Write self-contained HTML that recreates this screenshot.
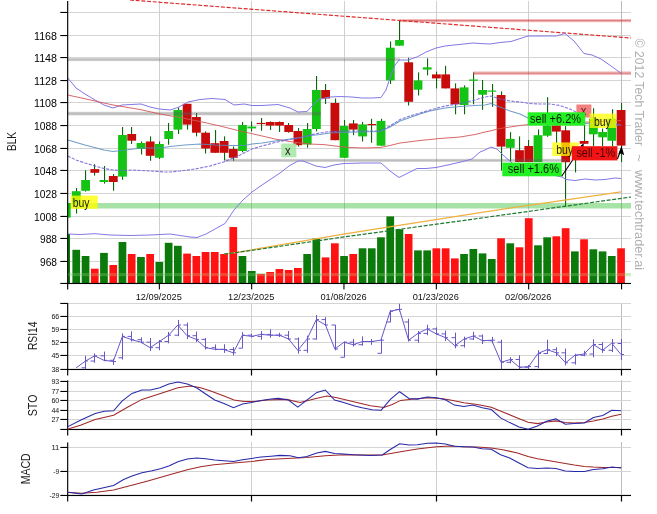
<!DOCTYPE html>
<html><head><meta charset="utf-8"><title>BLK chart</title>
<style>html,body{margin:0;padding:0;background:#fff;}body{width:657px;height:514px;position:relative;overflow:hidden;font-family:"Liberation Sans",sans-serif;}</style></head>
<body>
<svg width="657" height="514" viewBox="0 0 657 514" style="position:absolute;left:0;top:0;font-family:'Liberation Sans',sans-serif;will-change:transform">
<rect width="657" height="514" fill="#fff"/>
<line x1="68" x2="631" y1="12.5" y2="12.5" stroke="#d4d4d4" stroke-width="1"/>
<line x1="68" x2="631" y1="35.5" y2="35.5" stroke="#d4d4d4" stroke-width="1"/>
<line x1="68" x2="631" y1="57.5" y2="57.5" stroke="#d4d4d4" stroke-width="1"/>
<line x1="68" x2="631" y1="80.5" y2="80.5" stroke="#d4d4d4" stroke-width="1"/>
<line x1="68" x2="631" y1="102.5" y2="102.5" stroke="#d4d4d4" stroke-width="1"/>
<line x1="68" x2="631" y1="125.5" y2="125.5" stroke="#d4d4d4" stroke-width="1"/>
<line x1="68" x2="631" y1="148.5" y2="148.5" stroke="#d4d4d4" stroke-width="1"/>
<line x1="68" x2="631" y1="170.5" y2="170.5" stroke="#d4d4d4" stroke-width="1"/>
<line x1="68" x2="631" y1="193.5" y2="193.5" stroke="#d4d4d4" stroke-width="1"/>
<line x1="68" x2="631" y1="216.5" y2="216.5" stroke="#d4d4d4" stroke-width="1"/>
<line x1="68" x2="631" y1="238.5" y2="238.5" stroke="#d4d4d4" stroke-width="1"/>
<line x1="68" x2="631" y1="261.5" y2="261.5" stroke="#d4d4d4" stroke-width="1"/>
<line x1="159.5" x2="159.5" y1="1" y2="283" stroke="#d0d0d0" stroke-width="1"/>
<line x1="251.5" x2="251.5" y1="1" y2="283" stroke="#d0d0d0" stroke-width="1"/>
<line x1="344.5" x2="344.5" y1="1" y2="283" stroke="#d0d0d0" stroke-width="1"/>
<line x1="436.5" x2="436.5" y1="1" y2="283" stroke="#d0d0d0" stroke-width="1"/>
<line x1="528.5" x2="528.5" y1="1" y2="283" stroke="#d0d0d0" stroke-width="1"/>
<line x1="251.5" x2="251.5" y1="303" y2="369.5" stroke="#d0d0d0" stroke-width="1"/>
<line x1="251.5" x2="251.5" y1="380" y2="429.3" stroke="#d0d0d0" stroke-width="1"/>
<line x1="251.5" x2="251.5" y1="442" y2="495" stroke="#d0d0d0" stroke-width="1"/>
<line x1="436.5" x2="436.5" y1="303" y2="369.5" stroke="#d0d0d0" stroke-width="1"/>
<line x1="436.5" x2="436.5" y1="380" y2="429.3" stroke="#d0d0d0" stroke-width="1"/>
<line x1="436.5" x2="436.5" y1="442" y2="495" stroke="#d0d0d0" stroke-width="1"/>
<line x1="621.5" x2="621.5" y1="1" y2="283" stroke="#bcbcbc" stroke-width="1"/>
<line x1="621.5" x2="621.5" y1="303" y2="369.5" stroke="#bcbcbc" stroke-width="1"/>
<line x1="621.5" x2="621.5" y1="380" y2="429.3" stroke="#bcbcbc" stroke-width="1"/>
<line x1="621.5" x2="621.5" y1="442" y2="495" stroke="#bcbcbc" stroke-width="1"/>
<line x1="68" x2="631" y1="303.5" y2="303.5" stroke="#d4d4d4" stroke-width="1"/>
<line x1="68" x2="631" y1="316.5" y2="316.5" stroke="#d4d4d4" stroke-width="1"/>
<line x1="68" x2="631" y1="329.5" y2="329.5" stroke="#d4d4d4" stroke-width="1"/>
<line x1="68" x2="631" y1="342.5" y2="342.5" stroke="#d4d4d4" stroke-width="1"/>
<line x1="68" x2="631" y1="355.5" y2="355.5" stroke="#d4d4d4" stroke-width="1"/>
<line x1="68" x2="631" y1="381.5" y2="381.5" stroke="#d4d4d4" stroke-width="1"/>
<line x1="68" x2="631" y1="391.5" y2="391.5" stroke="#d4d4d4" stroke-width="1"/>
<line x1="68" x2="631" y1="400.5" y2="400.5" stroke="#d4d4d4" stroke-width="1"/>
<line x1="68" x2="631" y1="410.5" y2="410.5" stroke="#d4d4d4" stroke-width="1"/>
<line x1="68" x2="631" y1="419.5" y2="419.5" stroke="#d4d4d4" stroke-width="1"/>
<line x1="68" x2="631" y1="447.5" y2="447.5" stroke="#d4d4d4" stroke-width="1"/>
<line x1="68" x2="631" y1="471.5" y2="471.5" stroke="#d4d4d4" stroke-width="1"/>
<rect x="68" y="273" width="563" height="3.2" fill="#c6efc0"/>
<g clip-path="url(#clipmain)">
<defs><clipPath id="clipmain"><rect x="68" y="0" width="570" height="283"/></clipPath></defs>
<rect x="63.2" y="234.0" width="6.8" height="49.0" fill="#0b7a0b"/>
<rect x="72.4" y="249.8" width="7.7" height="33.2" fill="#0b7a0b"/>
<rect x="81.7" y="256.0" width="7.7" height="27.0" fill="#0b7a0b"/>
<rect x="90.9" y="268.7" width="7.7" height="14.3" fill="#ff1212"/>
<rect x="100.1" y="252.9" width="7.7" height="30.1" fill="#0b7a0b"/>
<rect x="109.4" y="265.0" width="7.7" height="18.0" fill="#ff1212"/>
<rect x="118.6" y="242.0" width="7.7" height="41.0" fill="#0b7a0b"/>
<rect x="127.8" y="254.0" width="7.7" height="29.0" fill="#ff1212"/>
<rect x="137.1" y="257.0" width="7.7" height="26.0" fill="#0b7a0b"/>
<rect x="146.3" y="254.0" width="7.7" height="29.0" fill="#ff1212"/>
<rect x="155.5" y="262.0" width="7.7" height="21.0" fill="#0b7a0b"/>
<rect x="164.8" y="242.8" width="7.7" height="40.2" fill="#0b7a0b"/>
<rect x="174.0" y="245.8" width="7.7" height="37.2" fill="#0b7a0b"/>
<rect x="183.2" y="253.6" width="7.7" height="29.4" fill="#ff1212"/>
<rect x="192.5" y="256.0" width="7.7" height="27.0" fill="#ff1212"/>
<rect x="201.7" y="252.0" width="7.7" height="31.0" fill="#ff1212"/>
<rect x="210.9" y="252.0" width="7.7" height="31.0" fill="#ff1212"/>
<rect x="220.2" y="254.0" width="7.7" height="29.0" fill="#ff1212"/>
<rect x="229.4" y="227.0" width="7.7" height="56.0" fill="#ff1212"/>
<rect x="238.6" y="256.0" width="7.7" height="27.0" fill="#0b7a0b"/>
<rect x="247.9" y="271.0" width="7.7" height="12.0" fill="#0b7a0b"/>
<rect x="257.1" y="274.0" width="7.7" height="9.0" fill="#ff1212"/>
<rect x="266.3" y="272.0" width="7.7" height="11.0" fill="#ff1212"/>
<rect x="275.6" y="269.0" width="7.7" height="14.0" fill="#ff1212"/>
<rect x="284.8" y="270.0" width="7.7" height="13.0" fill="#ff1212"/>
<rect x="294.0" y="268.0" width="7.7" height="15.0" fill="#ff1212"/>
<rect x="303.3" y="254.0" width="7.7" height="29.0" fill="#0b7a0b"/>
<rect x="312.5" y="238.5" width="7.7" height="44.5" fill="#0b7a0b"/>
<rect x="321.7" y="257.4" width="7.7" height="25.6" fill="#ff1212"/>
<rect x="331.0" y="243.3" width="7.7" height="39.7" fill="#ff1212"/>
<rect x="340.2" y="256.0" width="7.7" height="27.0" fill="#0b7a0b"/>
<rect x="349.4" y="254.0" width="7.7" height="29.0" fill="#ff1212"/>
<rect x="358.7" y="248.3" width="7.7" height="34.7" fill="#0b7a0b"/>
<rect x="367.9" y="248.3" width="7.7" height="34.7" fill="#0b7a0b"/>
<rect x="377.1" y="237.3" width="7.7" height="45.7" fill="#0b7a0b"/>
<rect x="386.4" y="216.4" width="7.7" height="66.6" fill="#0b7a0b"/>
<rect x="395.6" y="229.2" width="7.7" height="53.8" fill="#0b7a0b"/>
<rect x="404.8" y="234.0" width="7.7" height="49.0" fill="#ff1212"/>
<rect x="414.1" y="250.4" width="7.7" height="32.6" fill="#0b7a0b"/>
<rect x="423.3" y="250.4" width="7.7" height="32.6" fill="#0b7a0b"/>
<rect x="432.5" y="248.3" width="7.7" height="34.7" fill="#ff1212"/>
<rect x="441.8" y="248.3" width="7.7" height="34.7" fill="#ff1212"/>
<rect x="451.0" y="258.4" width="7.7" height="24.6" fill="#ff1212"/>
<rect x="460.2" y="254.0" width="7.7" height="29.0" fill="#0b7a0b"/>
<rect x="469.5" y="249.0" width="7.7" height="34.0" fill="#0b7a0b"/>
<rect x="478.7" y="253.4" width="7.7" height="29.6" fill="#0b7a0b"/>
<rect x="487.9" y="259.0" width="7.7" height="24.0" fill="#0b7a0b"/>
<rect x="497.2" y="238.3" width="7.7" height="44.7" fill="#ff1212"/>
<rect x="506.4" y="243.3" width="7.7" height="39.7" fill="#0b7a0b"/>
<rect x="515.6" y="247.3" width="7.7" height="35.7" fill="#ff1212"/>
<rect x="524.9" y="218.2" width="7.7" height="64.8" fill="#ff1212"/>
<rect x="534.1" y="245.3" width="7.7" height="37.7" fill="#0b7a0b"/>
<rect x="543.3" y="237.3" width="7.7" height="45.7" fill="#0b7a0b"/>
<rect x="552.5" y="236.3" width="7.7" height="46.7" fill="#ff1212"/>
<rect x="561.8" y="228.2" width="7.7" height="54.8" fill="#ff1212"/>
<rect x="571.0" y="251.4" width="7.7" height="31.6" fill="#0b7a0b"/>
<rect x="580.2" y="239.3" width="7.7" height="43.7" fill="#ff1212"/>
<rect x="589.5" y="249.3" width="7.7" height="33.7" fill="#0b7a0b"/>
<rect x="598.7" y="251.4" width="7.7" height="31.6" fill="#0b7a0b"/>
<rect x="607.9" y="256.0" width="7.7" height="27.0" fill="#0b7a0b"/>
<rect x="617.2" y="248.3" width="7.7" height="34.7" fill="#ff1212"/>
<rect x="67" y="203.0" width="1.1" height="14.6" fill="#0b660b"/>
<rect x="62.7" y="203.0" width="8.0" height="14.6" fill="#14c414"/>
<rect x="76" y="188.0" width="1.1" height="25.5" fill="#0b660b"/>
<rect x="71.9" y="191.2" width="8.8" height="13.2" fill="#14c414"/>
<rect x="85" y="170.3" width="1.1" height="21.3" fill="#0b660b"/>
<rect x="81.2" y="180.0" width="8.8" height="10.8" fill="#14c414"/>
<rect x="94" y="164.2" width="1.1" height="11.4" fill="#0b660b"/>
<rect x="90.4" y="169.1" width="8.8" height="3.7" fill="#c80c0c"/>
<rect x="104" y="166.0" width="1.1" height="17.6" fill="#0b660b"/>
<rect x="99.6" y="180.0" width="8.8" height="2.0" fill="#14c414"/>
<rect x="113" y="174.0" width="1.1" height="16.7" fill="#0b660b"/>
<rect x="108.9" y="176.0" width="8.8" height="6.0" fill="#c80c0c"/>
<rect x="122" y="127.0" width="1.1" height="52.8" fill="#0b660b"/>
<rect x="118.1" y="135.0" width="8.8" height="41.6" fill="#14c414"/>
<rect x="131" y="127.0" width="1.1" height="17.0" fill="#0b660b"/>
<rect x="127.3" y="134.0" width="8.8" height="6.7" fill="#c80c0c"/>
<rect x="141" y="141.5" width="1.1" height="13.0" fill="#0b660b"/>
<rect x="136.6" y="143.0" width="8.8" height="6.0" fill="#14c414"/>
<rect x="150" y="136.4" width="1.1" height="24.4" fill="#0b660b"/>
<rect x="145.8" y="141.5" width="8.8" height="14.3" fill="#c80c0c"/>
<rect x="159" y="141.5" width="1.1" height="17.5" fill="#0b660b"/>
<rect x="155.0" y="144.0" width="8.8" height="13.8" fill="#14c414"/>
<rect x="168" y="123.0" width="1.1" height="21.7" fill="#0b660b"/>
<rect x="164.3" y="131.0" width="8.8" height="8.0" fill="#14c414"/>
<rect x="178" y="107.5" width="1.1" height="26.5" fill="#0b660b"/>
<rect x="173.5" y="110.0" width="8.8" height="19.6" fill="#14c414"/>
<rect x="187" y="103.8" width="1.1" height="25.8" fill="#0b660b"/>
<rect x="182.7" y="103.8" width="8.8" height="20.8" fill="#c80c0c"/>
<rect x="196" y="113.0" width="1.1" height="23.4" fill="#0b660b"/>
<rect x="192.0" y="117.0" width="8.8" height="15.7" fill="#c80c0c"/>
<rect x="205" y="131.4" width="1.1" height="22.1" fill="#0b660b"/>
<rect x="201.2" y="132.7" width="8.8" height="15.8" fill="#c80c0c"/>
<rect x="215" y="130.0" width="1.1" height="22.8" fill="#0b660b"/>
<rect x="210.4" y="143.2" width="8.8" height="9.6" fill="#c80c0c"/>
<rect x="224" y="136.4" width="1.1" height="23.9" fill="#0b660b"/>
<rect x="219.7" y="141.0" width="8.8" height="11.8" fill="#c80c0c"/>
<rect x="233" y="146.5" width="1.1" height="14.3" fill="#0b660b"/>
<rect x="228.9" y="149.0" width="8.8" height="8.8" fill="#c80c0c"/>
<rect x="242" y="122.0" width="1.1" height="30.3" fill="#0b660b"/>
<rect x="238.1" y="125.0" width="8.8" height="26.0" fill="#14c414"/>
<rect x="251" y="121.4" width="1.1" height="10.0" fill="#0b660b"/>
<rect x="247.4" y="126.6" width="8.8" height="1.8" fill="#14c414"/>
<rect x="261" y="118.0" width="1.1" height="12.7" fill="#0b660b"/>
<rect x="256.6" y="122.9" width="8.8" height="1.2" fill="#c80c0c"/>
<rect x="270" y="121.4" width="1.1" height="8.6" fill="#0b660b"/>
<rect x="265.8" y="122.0" width="8.8" height="3.6" fill="#c80c0c"/>
<rect x="279" y="121.4" width="1.1" height="10.6" fill="#0b660b"/>
<rect x="275.1" y="122.0" width="8.8" height="3.6" fill="#c80c0c"/>
<rect x="288" y="123.0" width="1.1" height="9.7" fill="#0b660b"/>
<rect x="284.3" y="125.0" width="8.8" height="7.0" fill="#c80c0c"/>
<rect x="298" y="128.0" width="1.1" height="18.5" fill="#0b660b"/>
<rect x="293.5" y="131.0" width="8.8" height="14.2" fill="#c80c0c"/>
<rect x="307" y="123.0" width="1.1" height="24.7" fill="#0b660b"/>
<rect x="302.8" y="129.0" width="8.8" height="15.5" fill="#14c414"/>
<rect x="316" y="76.0" width="1.1" height="55.4" fill="#0b660b"/>
<rect x="312.0" y="90.0" width="8.8" height="39.0" fill="#14c414"/>
<rect x="325" y="84.0" width="1.1" height="20.0" fill="#0b660b"/>
<rect x="321.2" y="90.0" width="8.8" height="8.5" fill="#c80c0c"/>
<rect x="335" y="98.5" width="1.1" height="41.7" fill="#0b660b"/>
<rect x="330.5" y="103.0" width="8.8" height="37.2" fill="#c80c0c"/>
<rect x="344" y="120.0" width="1.1" height="37.8" fill="#0b660b"/>
<rect x="339.7" y="125.9" width="8.8" height="31.9" fill="#14c414"/>
<rect x="353" y="120.0" width="1.1" height="15.2" fill="#0b660b"/>
<rect x="348.9" y="123.4" width="8.8" height="6.2" fill="#c80c0c"/>
<rect x="362" y="122.0" width="1.1" height="19.5" fill="#0b660b"/>
<rect x="358.2" y="124.4" width="8.8" height="12.0" fill="#14c414"/>
<rect x="371" y="118.8" width="1.1" height="23.9" fill="#0b660b"/>
<rect x="367.4" y="124.0" width="8.8" height="1.2" fill="#c80c0c"/>
<rect x="381" y="118.8" width="1.1" height="26.9" fill="#0b660b"/>
<rect x="376.6" y="120.9" width="8.8" height="24.8" fill="#14c414"/>
<rect x="390" y="41.5" width="1.1" height="42.5" fill="#0b660b"/>
<rect x="385.9" y="47.7" width="8.8" height="32.7" fill="#14c414"/>
<rect x="399" y="20.6" width="1.1" height="25.1" fill="#0b660b"/>
<rect x="395.1" y="40.0" width="8.8" height="5.7" fill="#14c414"/>
<rect x="408" y="57.8" width="1.1" height="47.7" fill="#0b660b"/>
<rect x="404.3" y="62.3" width="8.8" height="39.5" fill="#c80c0c"/>
<rect x="418" y="72.4" width="1.1" height="23.1" fill="#0b660b"/>
<rect x="413.6" y="80.4" width="8.8" height="9.3" fill="#14c414"/>
<rect x="427" y="58.3" width="1.1" height="17.1" fill="#0b660b"/>
<rect x="422.8" y="67.3" width="8.8" height="2.3" fill="#14c414"/>
<rect x="436" y="71.6" width="1.1" height="16.8" fill="#0b660b"/>
<rect x="432.0" y="74.4" width="8.8" height="4.0" fill="#c80c0c"/>
<rect x="445" y="65.8" width="1.1" height="22.6" fill="#0b660b"/>
<rect x="441.3" y="74.4" width="8.8" height="14.0" fill="#c80c0c"/>
<rect x="455" y="83.4" width="1.1" height="30.9" fill="#0b660b"/>
<rect x="450.5" y="88.4" width="8.8" height="15.9" fill="#c80c0c"/>
<rect x="464" y="85.4" width="1.1" height="28.9" fill="#0b660b"/>
<rect x="459.7" y="87.4" width="8.8" height="17.6" fill="#14c414"/>
<rect x="473" y="72.4" width="1.1" height="31.9" fill="#0b660b"/>
<rect x="469.0" y="79.5" width="8.8" height="1.3" fill="#14c414"/>
<rect x="482" y="80.0" width="1.1" height="29.8" fill="#0b660b"/>
<rect x="478.2" y="90.0" width="8.8" height="4.7" fill="#14c414"/>
<rect x="492" y="84.0" width="1.1" height="22.8" fill="#0b660b"/>
<rect x="487.4" y="90.5" width="8.8" height="1.2" fill="#14c414"/>
<rect x="501" y="91.4" width="1.1" height="79.1" fill="#0b660b"/>
<rect x="496.7" y="95.0" width="8.8" height="51.6" fill="#c80c0c"/>
<rect x="510" y="132.2" width="1.1" height="29.8" fill="#0b660b"/>
<rect x="505.9" y="138.9" width="8.8" height="8.9" fill="#14c414"/>
<rect x="519" y="136.4" width="1.1" height="25.6" fill="#0b660b"/>
<rect x="515.1" y="150.2" width="8.8" height="11.8" fill="#c80c0c"/>
<rect x="528" y="140.0" width="1.1" height="22.0" fill="#0b660b"/>
<rect x="524.4" y="146.0" width="8.8" height="16.0" fill="#c80c0c"/>
<rect x="538" y="129.5" width="1.1" height="32.5" fill="#0b660b"/>
<rect x="533.6" y="135.2" width="8.8" height="26.8" fill="#14c414"/>
<rect x="547" y="97.2" width="1.1" height="39.6" fill="#0b660b"/>
<rect x="542.8" y="125.5" width="8.8" height="10.2" fill="#14c414"/>
<rect x="556" y="125.5" width="1.1" height="17.5" fill="#0b660b"/>
<rect x="552.0" y="125.5" width="8.8" height="6.1" fill="#c80c0c"/>
<rect x="565" y="126.0" width="1.1" height="80.6" fill="#0b660b"/>
<rect x="561.3" y="130.3" width="8.8" height="31.9" fill="#c80c0c"/>
<rect x="575" y="150.0" width="1.1" height="22.4" fill="#0b660b"/>
<rect x="572.1" y="150.0" width="5.5" height="8.0" fill="#14c414"/>
<rect x="584" y="123.5" width="1.1" height="20.3" fill="#0b660b"/>
<rect x="579.7" y="141.0" width="8.8" height="2.8" fill="#c80c0c"/>
<rect x="593" y="108.2" width="1.1" height="37.8" fill="#0b660b"/>
<rect x="589.0" y="118.6" width="8.8" height="15.7" fill="#14c414"/>
<rect x="602" y="128.6" width="1.1" height="17.4" fill="#0b660b"/>
<rect x="598.2" y="132.0" width="8.8" height="5.3" fill="#14c414"/>
<rect x="612" y="109.2" width="1.1" height="36.8" fill="#0b660b"/>
<rect x="607.4" y="118.6" width="8.8" height="22.2" fill="#14c414"/>
<rect x="621" y="103.0" width="1.1" height="59.0" fill="#0b660b"/>
<rect x="616.7" y="110.0" width="8.8" height="35.6" fill="#c80c0c"/>
</g>
<rect x="68" y="58.0" width="332.0" height="3.2" fill="#606060" fill-opacity="0.22"/>
<rect x="68" y="58.7" width="332.0" height="1.8" fill="#606060" fill-opacity="0.25"/>
<rect x="68" y="111.7" width="253.0" height="3.8" fill="#606060" fill-opacity="0.22"/>
<rect x="68" y="112.4" width="253.0" height="2.4" fill="#606060" fill-opacity="0.25"/>
<rect x="224" y="158.8" width="342.0" height="3.2" fill="#606060" fill-opacity="0.22"/>
<rect x="224" y="159.5" width="342.0" height="1.8" fill="#606060" fill-opacity="0.25"/>
<rect x="399.5" y="19.0" width="231.5" height="3.2" fill="#e03030" fill-opacity="0.33"/>
<rect x="399.5" y="20.0" width="231.5" height="1.2" fill="#b03030" fill-opacity="0.4"/>
<rect x="473" y="71.4" width="158.0" height="3.6" fill="#e03030" fill-opacity="0.33"/>
<rect x="473" y="72.6" width="158.0" height="1.2" fill="#b03030" fill-opacity="0.4"/>
<rect x="68" y="203" width="563" height="5.5" fill="#10b010" fill-opacity="0.37"/>
<rect x="68" y="273" width="563" height="3.2" fill="#c8f8b0" fill-opacity="0.22"/>
<line x1="130" y1="0" x2="631" y2="38" stroke="#e02828" stroke-width="1.15" stroke-dasharray="4,1.7"/>
<polyline points="224,254 237,252.3 345,233.8 485,211.8 621,191.8" fill="none" stroke="#f0b040" stroke-width="1.2"/>
<polyline points="224,254 237,252.5 345,236.8 485,217.5 631,197" fill="none" stroke="#1f7a30" stroke-width="1.2" stroke-dasharray="4,1.6"/>
<polyline points="67.8,234.0 80.0,234.5 95.0,233.7 110.0,235.0 130.0,235.5 150.0,235.0 160.0,234.5 170.0,234.0 180.0,235.5 190.0,237.0 197.0,237.5 206.0,234.0 215.0,229.0 225.0,223.5 234.0,210.0 243.0,200.0 252.0,192.0 262.0,185.0 271.0,179.0 280.0,173.0 289.0,166.0 298.0,161.0 303.0,161.0 307.0,162.5 316.0,166.0 325.0,167.5 334.0,165.0 344.0,163.5 362.0,163.0 381.0,163.0 390.0,171.0 399.0,177.5 408.0,173.0 417.0,168.5 426.0,168.5 436.0,167.5 450.0,164.5 463.0,161.5 472.0,159.0 480.0,152.0 485.0,150.0 491.0,147.0 497.0,149.0 503.0,155.0 512.0,163.0 520.0,168.0 530.0,172.0 545.0,174.0 555.0,175.5 562.0,177.0 566.0,179.5 575.0,180.5 585.0,179.0 595.0,180.0 605.0,179.5 615.0,178.0 621.0,178.5" fill="none" stroke="#8278e4" stroke-width="1"/>
<polyline points="67.8,78.0 76.0,88.0 85.0,94.0 95.0,100.0 104.0,105.0 113.0,108.0 122.0,105.0 131.0,104.5 141.0,104.0 150.0,107.0 159.0,109.0 165.0,109.5 170.0,110.0 178.0,107.5 188.0,102.0 200.0,99.5 212.0,98.5 225.0,99.5 234.0,105.0 244.0,104.0 252.0,105.5 262.0,105.5 278.0,104.5 290.0,108.0 298.0,112.0 307.0,111.5 312.0,106.0 318.0,100.0 325.0,98.0 330.0,97.0 340.0,96.5 352.0,97.0 362.0,98.0 372.0,98.0 381.0,97.5 386.0,90.0 390.0,78.0 395.0,65.0 399.0,60.0 408.0,60.0 417.0,57.0 426.0,52.0 436.0,48.0 445.0,46.0 454.0,45.0 464.0,44.0 473.0,43.0 480.0,43.5 490.0,44.0 500.0,42.5 511.0,41.5 528.0,36.0 545.0,36.0 556.0,36.0 565.0,33.5 574.0,41.0 584.0,53.5 592.0,55.0 601.0,59.0 611.0,66.0 621.5,73.5" fill="none" stroke="#8278e4" stroke-width="1"/>
<polyline points="67.8,95.0 95.0,101.0 113.0,105.0 140.0,109.5 160.0,114.0 180.0,117.5 200.0,121.5 220.0,126.0 240.0,131.0 260.0,135.5 275.0,139.0 290.0,141.5 300.0,143.0 310.0,144.0 325.0,144.7 335.0,146.0 350.0,147.5 365.0,148.0 380.0,147.5 390.0,145.5 400.0,143.0 420.0,140.5 440.0,138.5 460.0,137.0 475.0,134.5 485.0,132.0 490.0,131.0 500.0,128.5 510.0,127.0 520.0,125.5 530.0,124.5 560.0,123.0 590.0,122.0 621.0,120.5" fill="none" stroke="#d45858" stroke-width="1" stroke-opacity="0.9"/>
<polyline points="67.8,140.0 85.0,145.0 104.0,150.0 113.0,151.5 122.0,150.5 141.0,148.0 160.0,148.0 170.0,146.5 185.0,145.0 200.0,144.0 215.0,145.0 230.0,145.5 245.0,145.5 252.0,144.0 262.0,143.0 275.0,141.0 290.0,139.0 300.0,137.5 310.0,135.5 320.0,134.5 330.0,133.0 340.0,132.5 360.0,132.0 380.0,131.5 390.0,127.0 400.0,121.0 410.0,117.5 420.0,114.0 430.0,111.0 445.0,108.0 460.0,106.5 475.0,105.5 485.0,105.0 491.0,103.5 500.0,107.0 510.0,111.0 520.0,114.0 528.0,118.0 540.0,120.5 560.0,122.0 590.0,123.5 621.0,125.0" fill="none" stroke="#5a8cc0" stroke-width="1.1" stroke-opacity="0.85"/>
<polyline points="67.8,156.0 76.0,160.0 85.0,163.0 95.0,166.0 104.0,168.5 113.0,170.0 122.0,170.5 132.0,170.0 150.0,171.0 165.0,172.0 170.0,172.0 180.0,171.0 195.0,169.0 210.0,166.0 225.0,161.5 240.0,155.0 252.0,149.0 262.0,146.0 275.0,142.5 290.0,139.5 300.0,138.0 310.0,135.0 320.0,133.0 330.0,131.5 345.0,131.0 380.0,131.0 390.0,126.0 400.0,119.5 410.0,116.0 420.0,113.0 430.0,110.0 445.0,106.0 460.0,103.5 475.0,100.0 485.0,97.0 491.0,96.0 500.0,99.0 510.0,101.0 520.0,102.0 530.0,103.5 540.0,104.0 550.0,104.0 560.0,105.5 570.0,109.0 576.0,112.0 590.0,117.0 605.0,121.0 621.0,125.5" fill="none" stroke="#6c60d8" stroke-width="1.1" stroke-opacity="0.85" stroke-dasharray="3.2,1.3"/>
<rect x="70.7" y="195.6" width="27" height="13.3" fill="#ffff00" fill-opacity="0.78"/>
<text x="72.7" y="206.5" font-size="12" fill="#000" fill-opacity="0.88" textLength="16.8" lengthAdjust="spacingAndGlyphs">buy</text>
<rect x="281.2" y="143.5" width="15.2" height="13.8" fill="#a8e8a8" fill-opacity="0.9"/>
<text x="284.9" y="154.9" font-size="12" fill="#000" fill-opacity="0.88" textLength="5.6" lengthAdjust="spacingAndGlyphs">x</text>
<rect x="576.4" y="104.5" width="15" height="13" fill="#f28080" fill-opacity="1"/>
<text x="580.8" y="115.1" font-size="12" fill="#500" fill-opacity="0.88" textLength="5.6" lengthAdjust="spacingAndGlyphs">x</text>
<rect x="552.2" y="142.4" width="26.6" height="13.6" fill="#ffff00" fill-opacity="0.74"/>
<text x="556.3" y="153.6" font-size="12" fill="#000" fill-opacity="0.88" textLength="16.8" lengthAdjust="spacingAndGlyphs">buy</text>
<rect x="589.6" y="113.6" width="26.6" height="14.4" fill="#ffff00" fill-opacity="0.74"/>
<text x="594" y="125.6" font-size="12" fill="#000" fill-opacity="0.88" textLength="16.8" lengthAdjust="spacingAndGlyphs">buy</text>
<rect x="527.7" y="112.3" width="57.5" height="13.3" fill="#22f022" fill-opacity="1"/>
<text x="530.1" y="123.2" font-size="12" fill="#000" fill-opacity="0.88" textLength="50.9" lengthAdjust="spacingAndGlyphs">sell +6.2%</text>
<rect x="502.3" y="162.6" width="59.4" height="13.7" fill="#22f022" fill-opacity="1"/>
<text x="507.8" y="173.4" font-size="12" fill="#000" fill-opacity="0.88" textLength="51.2" lengthAdjust="spacingAndGlyphs">sell +1.6%</text>
<line x1="561.7" y1="176.3" x2="583" y2="144.8" stroke="#000" stroke-width="1.1"/>
<polygon points="583.8,143.4 583.3,147.4 580.6,145.6" fill="#000"/>
<rect x="571.8" y="146.2" width="45.6" height="14.2" fill="#f01414" fill-opacity="1"/>
<text x="576.4" y="157.0" font-size="12" fill="#300" fill-opacity="0.88" textLength="38.8" lengthAdjust="spacingAndGlyphs">sell -1%</text>
<line x1="617.4" y1="159" x2="620.5" y2="151" stroke="#000" stroke-width="1.1"/>
<polygon points="621.5,145.8 624.2,155.2 621.2,153.6 618.2,154.4" fill="#000"/>
<rect x="67.1" y="1" width="1.15" height="288.5" fill="#000"/>
<rect x="67.1" y="282.9" width="563.9" height="1.15" fill="#000"/>
<rect x="60.3" y="11.9" width="7" height="1.1" fill="#000"/>
<rect x="60.3" y="35.0" width="7" height="1.1" fill="#000"/>
<rect x="60.3" y="57.0" width="7" height="1.1" fill="#000"/>
<rect x="60.3" y="80.0" width="7" height="1.1" fill="#000"/>
<rect x="60.3" y="102.0" width="7" height="1.1" fill="#000"/>
<rect x="60.3" y="125.0" width="7" height="1.1" fill="#000"/>
<rect x="60.3" y="147.9" width="7" height="1.1" fill="#000"/>
<rect x="60.3" y="169.9" width="7" height="1.1" fill="#000"/>
<rect x="60.3" y="192.9" width="7" height="1.1" fill="#000"/>
<rect x="60.3" y="215.9" width="7" height="1.1" fill="#000"/>
<rect x="60.3" y="237.9" width="7" height="1.1" fill="#000"/>
<rect x="60.3" y="260.9" width="7" height="1.1" fill="#000"/>
<rect x="60.3" y="282.9" width="7" height="1.1" fill="#000"/>
<text x="34.0" y="39.5" font-size="11" textLength="23.0" lengthAdjust="spacingAndGlyphs">1168</text>
<text x="34.0" y="61.5" font-size="11" textLength="23.0" lengthAdjust="spacingAndGlyphs">1148</text>
<text x="34.0" y="84.5" font-size="11" textLength="23.0" lengthAdjust="spacingAndGlyphs">1128</text>
<text x="34.0" y="106.5" font-size="11" textLength="23.0" lengthAdjust="spacingAndGlyphs">1108</text>
<text x="34.0" y="129.5" font-size="11" textLength="23.0" lengthAdjust="spacingAndGlyphs">1088</text>
<text x="34.0" y="152.5" font-size="11" textLength="23.0" lengthAdjust="spacingAndGlyphs">1068</text>
<text x="34.0" y="174.5" font-size="11" textLength="23.0" lengthAdjust="spacingAndGlyphs">1048</text>
<text x="34.0" y="197.5" font-size="11" textLength="23.0" lengthAdjust="spacingAndGlyphs">1028</text>
<text x="34.0" y="220.5" font-size="11" textLength="23.0" lengthAdjust="spacingAndGlyphs">1008</text>
<text x="40.0" y="242.5" font-size="11" textLength="17.0" lengthAdjust="spacingAndGlyphs">988</text>
<text x="40.0" y="265.5" font-size="11" textLength="17.0" lengthAdjust="spacingAndGlyphs">968</text>
<rect x="158.8" y="283" width="1.1" height="6.4" fill="#000"/>
<rect x="251.1" y="283" width="1.1" height="6.4" fill="#000"/>
<rect x="343.4" y="283" width="1.1" height="6.4" fill="#000"/>
<rect x="435.8" y="283" width="1.1" height="6.4" fill="#000"/>
<rect x="528.1" y="283" width="1.1" height="6.4" fill="#000"/>
<rect x="621.0" y="283" width="1.1" height="6.4" fill="#000"/>
<text x="135.7" y="299.9" font-size="9.2" fill="#111" textLength="46.2" lengthAdjust="spacingAndGlyphs">12/09/2025</text>
<text x="228.1" y="299.9" font-size="9.2" fill="#111" textLength="46.2" lengthAdjust="spacingAndGlyphs">12/23/2025</text>
<text x="320.4" y="299.9" font-size="9.2" fill="#111" textLength="46.2" lengthAdjust="spacingAndGlyphs">01/08/2026</text>
<text x="412.7" y="299.9" font-size="9.2" fill="#111" textLength="46.2" lengthAdjust="spacingAndGlyphs">01/23/2026</text>
<text x="505.1" y="299.9" font-size="9.2" fill="#111" textLength="46.2" lengthAdjust="spacingAndGlyphs">02/06/2026</text>
<rect x="67.1" y="302.9" width="1.15" height="72.6" fill="#000"/>
<rect x="67.1" y="368.9" width="563.9" height="1.15" fill="#000"/>
<rect x="250.9" y="369.5" width="1.2" height="6" fill="#000"/>
<rect x="435.9" y="369.5" width="1.2" height="6" fill="#000"/>
<rect x="620.9" y="369.5" width="1.2" height="6" fill="#000"/>
<rect x="60.3" y="302.9" width="7" height="1.1" fill="#000"/>
<rect x="60.3" y="315.9" width="7" height="1.1" fill="#000"/>
<text x="51.4" y="319.1" font-size="7.4" fill="#111" textLength="7.9" lengthAdjust="spacingAndGlyphs">66</text>
<rect x="60.3" y="328.9" width="7" height="1.1" fill="#000"/>
<text x="51.4" y="332.1" font-size="7.4" fill="#111" textLength="7.9" lengthAdjust="spacingAndGlyphs">59</text>
<rect x="60.3" y="341.9" width="7" height="1.1" fill="#000"/>
<text x="51.4" y="345.1" font-size="7.4" fill="#111" textLength="7.9" lengthAdjust="spacingAndGlyphs">52</text>
<rect x="60.3" y="354.9" width="7" height="1.1" fill="#000"/>
<text x="51.4" y="358.1" font-size="7.4" fill="#111" textLength="7.9" lengthAdjust="spacingAndGlyphs">45</text>
<rect x="60.3" y="368.9" width="7" height="1.1" fill="#000"/>
<text x="51.4" y="372.1" font-size="7.4" fill="#111" textLength="7.9" lengthAdjust="spacingAndGlyphs">38</text>
<rect x="67.1" y="380.3" width="1.15" height="55.2" fill="#000"/>
<rect x="67.1" y="428.9" width="563.9" height="1.15" fill="#000"/>
<rect x="250.9" y="429.5" width="1.2" height="6" fill="#000"/>
<rect x="435.9" y="429.5" width="1.2" height="6" fill="#000"/>
<rect x="620.9" y="429.5" width="1.2" height="6" fill="#000"/>
<rect x="60.3" y="380.9" width="7" height="1.1" fill="#000"/>
<text x="51.4" y="384.1" font-size="7.4" fill="#111" textLength="7.9" lengthAdjust="spacingAndGlyphs">93</text>
<rect x="60.3" y="390.9" width="7" height="1.1" fill="#000"/>
<text x="51.4" y="394.1" font-size="7.4" fill="#111" textLength="7.9" lengthAdjust="spacingAndGlyphs">77</text>
<rect x="60.3" y="399.9" width="7" height="1.1" fill="#000"/>
<text x="51.4" y="403.1" font-size="7.4" fill="#111" textLength="7.9" lengthAdjust="spacingAndGlyphs">60</text>
<rect x="60.3" y="409.9" width="7" height="1.1" fill="#000"/>
<text x="51.4" y="413.1" font-size="7.4" fill="#111" textLength="7.9" lengthAdjust="spacingAndGlyphs">44</text>
<rect x="60.3" y="418.9" width="7" height="1.1" fill="#000"/>
<text x="51.4" y="422.1" font-size="7.4" fill="#111" textLength="7.9" lengthAdjust="spacingAndGlyphs">27</text>
<rect x="60.3" y="428.9" width="7" height="1.1" fill="#000"/>
<rect x="67.1" y="442.4" width="1.15" height="59.1" fill="#000"/>
<rect x="67.1" y="494.9" width="563.9" height="1.15" fill="#000"/>
<rect x="250.9" y="495.5" width="1.2" height="6" fill="#000"/>
<rect x="435.9" y="495.5" width="1.2" height="6" fill="#000"/>
<rect x="620.9" y="495.5" width="1.2" height="6" fill="#000"/>
<rect x="60.3" y="446.9" width="7" height="1.1" fill="#000"/>
<text x="51.4" y="450.1" font-size="7.4" fill="#111" textLength="7.9" lengthAdjust="spacingAndGlyphs">11</text>
<rect x="60.3" y="470.9" width="7" height="1.1" fill="#000"/>
<text x="53.3" y="474.1" font-size="7.4" fill="#111" textLength="6.0" lengthAdjust="spacingAndGlyphs">-9</text>
<rect x="60.3" y="494.9" width="7" height="1.1" fill="#000"/>
<text x="49.5" y="498.1" font-size="7.4" fill="#111" textLength="9.8" lengthAdjust="spacingAndGlyphs">-29</text>
<polyline points="76.2,367.8 85.5,361.0 94.7,355.8 103.9,360.3 113.2,361.5 122.4,336.4 131.6,339.7 140.9,342.2 150.1,347.7 159.3,341.5 168.6,335.2 177.8,325.0 187.0,335.7 196.3,339.4 205.5,347.7 214.7,349.3 224.0,349.5 233.2,352.8 242.4,335.2 251.7,336.4 260.9,334.4 270.1,335.2 279.4,335.2 288.6,339.0 297.8,350.3 307.1,339.0 316.3,319.6 325.5,325.0 334.8,349.0 344.0,342.2 353.2,344.7 362.5,341.5 371.7,341.5 380.9,340.2 390.2,311.3 399.4,309.3 408.6,340.2 417.9,333.4 427.1,328.9 436.3,333.9 445.6,337.7 454.8,345.7 464.0,339.0 473.3,336.0 482.5,340.7 491.7,340.2 501.0,362.3 510.2,359.5 519.4,367.3 528.7,366.6 537.9,353.5 547.1,349.7 556.3,352.8 565.6,362.8 574.8,355.3 584.0,354.0 593.3,344.5 602.5,350.3 611.7,343.2 621.0,354.5" fill="none" stroke="#6658c8" stroke-width="1"/>
<path d="M85.5,355.9V369.0M81.5,367.8H85.5M85.5,361.0h2.5" stroke="#6658c8" stroke-width="1" fill="none"/>
<path d="M94.5,353.4V362.8M90.5,361.0H94.5M94.5,355.8h2.5" stroke="#6658c8" stroke-width="1" fill="none"/>
<path d="M104.5,351.6V361.3M100.5,355.8H104.5M104.5,360.3h2.5" stroke="#6658c8" stroke-width="1" fill="none"/>
<path d="M113.5,358.8V364.9M109.5,360.3H113.5M113.5,361.5h2.5" stroke="#6658c8" stroke-width="1" fill="none"/>
<path d="M122.5,333.4V359.5M118.5,357.8H122.5M122.5,336.4h2.5" stroke="#6658c8" stroke-width="1" fill="none"/>
<path d="M131.5,331.3V341.5M127.5,336.4H131.5M131.5,339.7h2.5" stroke="#6658c8" stroke-width="1" fill="none"/>
<path d="M141.5,337.3V343.2M137.5,339.7H141.5M141.5,342.2h2.5" stroke="#6658c8" stroke-width="1" fill="none"/>
<path d="M150.5,338.0V351.1M146.5,342.2H150.5M150.5,347.7h2.5" stroke="#6658c8" stroke-width="1" fill="none"/>
<path d="M159.5,340.0V350.3M155.5,347.7H159.5M159.5,341.5h2.5" stroke="#6658c8" stroke-width="1" fill="none"/>
<path d="M168.5,331.9V343.3M164.5,341.5H168.5M168.5,335.2h2.5" stroke="#6658c8" stroke-width="1" fill="none"/>
<path d="M178.5,319.9V336.2M174.5,335.2H178.5M178.5,325.0h2.5" stroke="#6658c8" stroke-width="1" fill="none"/>
<path d="M187.5,322.6V339.1M183.5,325.0H187.5M187.5,335.7h2.5" stroke="#6658c8" stroke-width="1" fill="none"/>
<path d="M196.5,331.5V342.0M192.5,335.7H196.5M196.5,339.4h2.5" stroke="#6658c8" stroke-width="1" fill="none"/>
<path d="M205.5,337.9V349.5M201.5,339.4H205.5M205.5,347.7h2.5" stroke="#6658c8" stroke-width="1" fill="none"/>
<path d="M215.5,344.4V350.3M211.5,347.7H215.5M215.5,349.3h2.5" stroke="#6658c8" stroke-width="1" fill="none"/>
<path d="M224.5,344.2V352.9M220.5,349.3H224.5M224.5,349.5h2.5" stroke="#6658c8" stroke-width="1" fill="none"/>
<path d="M233.5,347.1V355.4M229.5,349.5H233.5M233.5,352.8h2.5" stroke="#6658c8" stroke-width="1" fill="none"/>
<path d="M242.5,332.2V348.2M238.5,348.2H242.5M242.5,335.2h2.5" stroke="#6658c8" stroke-width="1" fill="none"/>
<path d="M251.5,333.7V337.4M247.5,335.2H251.5M251.5,336.4h2.5" stroke="#6658c8" stroke-width="1" fill="none"/>
<path d="M261.5,331.1V339.8M257.5,336.4H261.5M261.5,334.4h2.5" stroke="#6658c8" stroke-width="1" fill="none"/>
<path d="M270.5,329.3V337.8M266.5,334.4H270.5M270.5,335.2h2.5" stroke="#6658c8" stroke-width="1" fill="none"/>
<path d="M279.5,332.8V337.0M275.5,335.2H279.5M279.5,335.2h2.5" stroke="#6658c8" stroke-width="1" fill="none"/>
<path d="M288.5,331.0V340.0M284.5,335.2H288.5M288.5,339.0h2.5" stroke="#6658c8" stroke-width="1" fill="none"/>
<path d="M298.5,337.5V353.7M294.5,339.0H298.5M298.5,350.3h2.5" stroke="#6658c8" stroke-width="1" fill="none"/>
<path d="M307.5,335.7V352.9M303.5,350.3H307.5M307.5,339.0h2.5" stroke="#6658c8" stroke-width="1" fill="none"/>
<path d="M316.5,315.0V339.7M312.5,339.0H316.5M316.5,319.6h2.5" stroke="#6658c8" stroke-width="1" fill="none"/>
<path d="M325.5,317.2V326.0M321.5,319.6H325.5M325.5,325.0h2.5" stroke="#6658c8" stroke-width="1" fill="none"/>
<path d="M335.5,325.0V350.3M331.5,325.0H335.5M335.5,349.0h2.5" stroke="#6658c8" stroke-width="1" fill="none"/>
<path d="M344.5,341.5V357.3M340.5,357.3H344.5M344.5,342.2h2.5" stroke="#6658c8" stroke-width="1" fill="none"/>
<path d="M353.5,338.9V346.5M349.5,342.2H353.5M353.5,344.7h2.5" stroke="#6658c8" stroke-width="1" fill="none"/>
<path d="M362.5,336.4V345.7M358.5,344.7H362.5M362.5,341.5h2.5" stroke="#6658c8" stroke-width="1" fill="none"/>
<path d="M371.5,339.1V344.9M367.5,341.5H371.5M371.5,341.5h2.5" stroke="#6658c8" stroke-width="1" fill="none"/>
<path d="M381.5,339.0V353.3M377.5,353.3H381.5M381.5,340.2h2.5" stroke="#6658c8" stroke-width="1" fill="none"/>
<path d="M390.5,310.0V322.2M386.5,322.0H390.5M390.5,311.3h2.5" stroke="#6658c8" stroke-width="1" fill="none"/>
<path d="M399.5,303.8V311.5M395.5,309.5H399.5M399.5,309.3h2.5" stroke="#6658c8" stroke-width="1" fill="none"/>
<path d="M408.5,318.8V341.5M404.5,322.0H408.5M408.5,340.2h2.5" stroke="#6658c8" stroke-width="1" fill="none"/>
<path d="M418.5,331.0V342.8M414.5,340.2H418.5M418.5,333.4h2.5" stroke="#6658c8" stroke-width="1" fill="none"/>
<path d="M427.5,324.7V335.2M423.5,333.4H427.5M427.5,328.9h2.5" stroke="#6658c8" stroke-width="1" fill="none"/>
<path d="M436.5,327.4V334.9M432.5,328.9H436.5M436.5,333.9h2.5" stroke="#6658c8" stroke-width="1" fill="none"/>
<path d="M445.5,330.6V341.1M441.5,333.9H445.5M445.5,337.7h2.5" stroke="#6658c8" stroke-width="1" fill="none"/>
<path d="M455.5,332.6V348.3M451.5,337.7H455.5M455.5,345.7h2.5" stroke="#6658c8" stroke-width="1" fill="none"/>
<path d="M464.5,336.6V347.5M460.5,345.7H464.5M464.5,339.0h2.5" stroke="#6658c8" stroke-width="1" fill="none"/>
<path d="M473.5,331.8V340.0M469.5,339.0H473.5M473.5,336.0h2.5" stroke="#6658c8" stroke-width="1" fill="none"/>
<path d="M482.5,334.5V344.1M478.5,336.0H482.5M482.5,340.7h2.5" stroke="#6658c8" stroke-width="1" fill="none"/>
<path d="M492.5,336.9V343.3M488.5,340.7H492.5M492.5,340.2h2.5" stroke="#6658c8" stroke-width="1" fill="none"/>
<path d="M501.5,339.7V369.0M497.5,342.2H501.5M501.5,362.3h2.5" stroke="#6658c8" stroke-width="1" fill="none"/>
<path d="M510.5,357.1V363.3M506.5,362.3H510.5M510.5,359.5h2.5" stroke="#6658c8" stroke-width="1" fill="none"/>
<path d="M519.5,355.3V369.0M515.5,359.5H519.5M519.5,367.3h2.5" stroke="#6658c8" stroke-width="1" fill="none"/>
<path d="M528.5,365.1V369.0M524.5,367.3H528.5M528.5,366.6h2.5" stroke="#6658c8" stroke-width="1" fill="none"/>
<path d="M538.5,350.2V368.4M534.5,366.6H538.5M538.5,353.5h2.5" stroke="#6658c8" stroke-width="1" fill="none"/>
<path d="M547.5,339.7V354.0M543.5,353.5H547.5M547.5,349.7h2.5" stroke="#6658c8" stroke-width="1" fill="none"/>
<path d="M556.5,347.3V356.2M552.5,349.7H556.5M556.5,352.8h2.5" stroke="#6658c8" stroke-width="1" fill="none"/>
<path d="M565.5,348.6V365.4M561.5,352.8H565.5M565.5,362.8h2.5" stroke="#6658c8" stroke-width="1" fill="none"/>
<path d="M575.5,353.8V364.6M571.5,362.8H575.5M575.5,355.3h2.5" stroke="#6658c8" stroke-width="1" fill="none"/>
<path d="M584.5,350.7V356.3M580.5,355.3H584.5M584.5,354.0h2.5" stroke="#6658c8" stroke-width="1" fill="none"/>
<path d="M593.5,339.4V357.4M589.5,354.0H593.5M593.5,344.5h2.5" stroke="#6658c8" stroke-width="1" fill="none"/>
<path d="M602.5,342.1V352.9M598.5,344.5H602.5M602.5,350.3h2.5" stroke="#6658c8" stroke-width="1" fill="none"/>
<path d="M612.5,339.0V352.1M608.5,350.3H612.5M612.5,343.2h2.5" stroke="#6658c8" stroke-width="1" fill="none"/>
<path d="M621.5,339.0V360.0M617.5,343.5H621.5M621.5,354.5h2.5" stroke="#6658c8" stroke-width="1" fill="none"/>
<polyline points="67.4,429.3 80.4,425.3 95.2,419.5 113.6,415.2 127.0,407.5 142.0,399.4 160.5,393.4 177.9,387.7 190.6,386.0 200.7,387.7 210.7,391.0 224.0,396.0 234.0,400.0 244.0,401.5 254.0,401.5 267.6,400.0 286.7,399.4 300.0,402.5 310.0,400.1 320.2,397.4 327.0,396.1 337.0,397.8 353.7,401.8 370.5,405.8 383.9,407.5 392.2,404.5 400.6,400.4 414.0,399.1 427.4,397.8 440.8,398.4 450.4,400.1 463.8,402.8 477.2,404.5 491.3,407.2 504.0,412.5 517.4,417.9 528.1,422.2 537.5,423.6 546.5,421.9 555.9,420.9 565.3,422.6 574.3,422.9 584.4,422.6 593.4,420.9 602.8,418.9 611.8,416.2 621.2,414.2" fill="none" stroke="#a02828" stroke-width="1.05"/>
<polyline points="67.4,426.9 80.4,420.2 95.2,413.5 104.5,411.2 113.6,410.8 122.0,401.1 132.0,393.4 142.0,390.0 150.4,390.0 159.8,387.7 168.8,384.0 177.9,382.0 187.3,384.0 196.6,387.7 205.7,394.0 214.7,400.0 224.0,403.5 233.5,407.8 242.5,404.0 251.6,402.5 261.0,400.5 271.0,399.0 278.4,398.4 288.4,400.1 297.8,407.2 306.8,400.1 316.9,392.4 325.3,390.0 334.6,400.1 343.7,402.5 353.7,405.8 362.1,407.8 372.1,409.8 381.2,410.2 390.6,399.1 399.6,391.7 409.0,398.4 417.4,399.1 427.4,397.1 436.4,397.8 445.4,399.8 454.4,405.1 463.8,406.5 472.8,405.1 482.2,407.8 491.3,409.5 500.6,417.9 509.7,422.6 519.0,426.9 528.1,429.3 537.5,425.9 546.5,421.2 555.9,418.9 565.3,424.2 574.3,423.6 584.4,422.9 593.4,417.5 602.8,415.5 611.8,410.2 621.2,410.8" fill="none" stroke="#2828a8" stroke-width="1.05"/>
<polyline points="67.4,492.2 81.8,493.2 96.8,492.2 113.6,489.9 127.0,486.5 147.0,481.2 167.0,475.5 187.3,469.8 200.7,466.8 214.0,464.7 233.5,463.0 251.6,461.4 267.6,459.6 286.7,458.4 306.8,457.4 325.3,455.7 343.7,454.7 363.8,455.0 382.2,455.0 400.6,451.7 417.4,449.0 436.4,446.7 450.9,446.0 463.8,446.7 477.2,447.0 491.3,448.0 504.0,450.0 517.4,453.0 528.1,456.4 537.5,458.7 550.9,461.1 565.3,463.4 574.3,465.1 584.4,466.4 593.4,467.1 602.8,467.4 611.8,467.4 621.2,467.4" fill="none" stroke="#a02828" stroke-width="1.05"/>
<polyline points="67.4,492.2 81.8,493.9 93.5,489.9 113.6,485.5 123.6,479.5 132.0,476.0 142.0,472.8 152.0,470.8 160.5,468.8 168.8,466.0 177.9,461.7 187.3,459.0 196.6,458.0 205.7,458.7 214.7,460.0 224.0,460.7 233.5,461.4 242.5,459.7 251.6,458.4 261.0,457.0 271.0,456.2 280.0,455.4 290.0,455.7 298.5,457.7 306.8,456.4 316.9,453.0 325.3,451.4 334.6,453.4 343.7,454.0 353.7,454.7 370.5,455.4 382.2,455.0 390.6,449.3 399.6,443.7 409.0,445.0 417.4,444.7 427.4,443.3 436.4,443.0 445.4,444.0 454.4,446.3 463.8,446.7 472.8,447.0 482.2,448.7 491.3,449.3 500.6,454.7 509.7,458.0 519.0,463.0 528.1,467.8 537.5,468.4 546.5,468.1 555.9,468.4 565.3,471.1 574.3,471.4 584.4,471.4 593.4,469.4 602.8,468.8 611.8,467.1 621.2,468.1" fill="none" stroke="#2828a8" stroke-width="1.05"/>
<text transform="translate(16,141.5) rotate(-90)" text-anchor="middle" font-size="13" fill="#1c1c1c" textLength="19.2" lengthAdjust="spacingAndGlyphs">BLK</text>
<text transform="translate(36.8,335.8) rotate(-90)" text-anchor="middle" font-size="13" fill="#1c1c1c" textLength="28.5" lengthAdjust="spacingAndGlyphs">RSI14</text>
<text transform="translate(37,405.4) rotate(-90)" text-anchor="middle" font-size="13" fill="#1c1c1c" textLength="21.8" lengthAdjust="spacingAndGlyphs">STO</text>
<text transform="translate(30.1,468.8) rotate(-90)" text-anchor="middle" font-size="13" fill="#1c1c1c" textLength="31" lengthAdjust="spacingAndGlyphs">MACD</text>
<g transform="translate(634.6,0) rotate(90)" font-size="13" fill="#b0b0b0">
<text x="38.6" y="0" textLength="107.4" lengthAdjust="spacingAndGlyphs">© 2012 Tech Trader</text>
<text x="154.2" y="0">~</text>
<text x="170" y="0" textLength="100.2" lengthAdjust="spacingAndGlyphs">www.techtrader.ai</text>
</g>
</svg>
</body></html>
